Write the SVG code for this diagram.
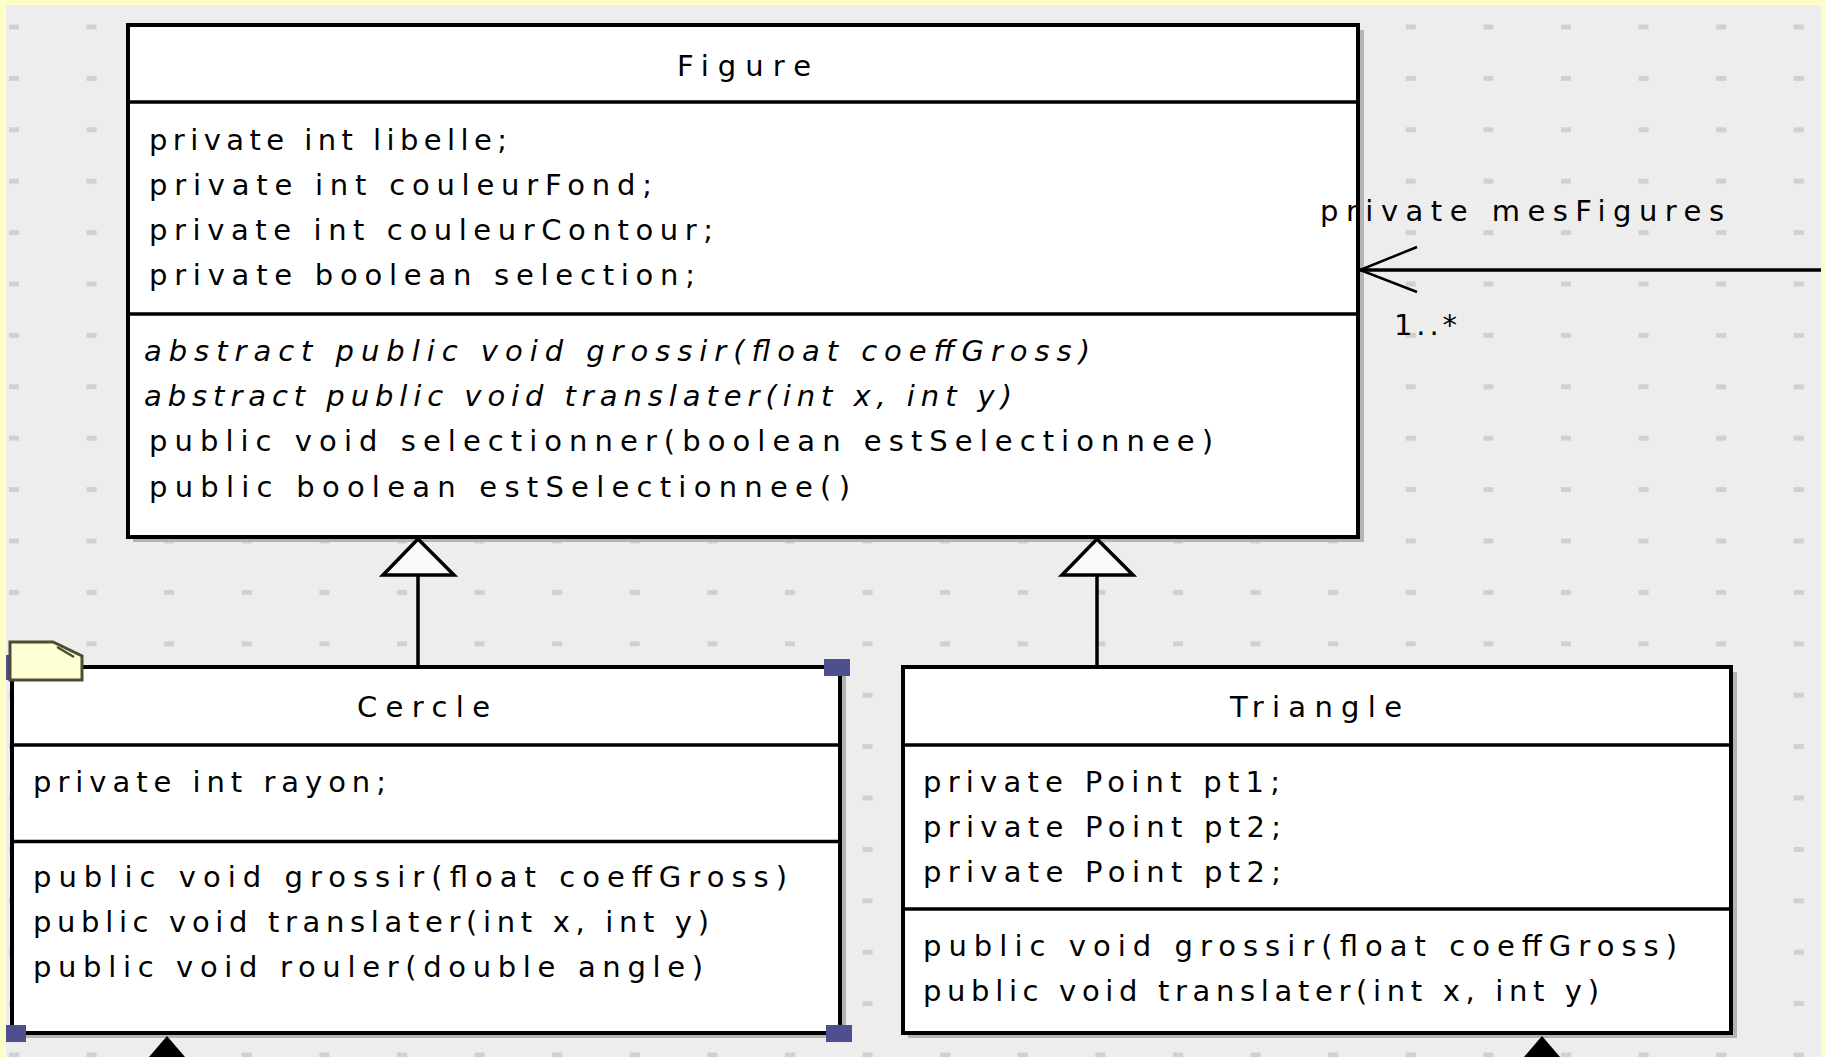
<svg xmlns="http://www.w3.org/2000/svg" width="1825" height="1057" viewBox="0 0 1825 1057">
<defs>
<pattern id="grid" x="9" y="24.5" width="77.6" height="51.4" patternUnits="userSpaceOnUse">
<rect x="0" y="0" width="10" height="5" fill="#d0d0d0"/>
</pattern>
<style>
.t{font-family:"DejaVu Sans",Verdana,sans-serif;font-size:29px;fill:#000}
.i{font-style:italic}
.box{fill:#fff;stroke:#000;stroke-width:4}
.shadow{fill:#b4b4b4}
.div{stroke:#000;stroke-width:3.5}
.edge{stroke:#000;stroke-width:3.5;fill:none}
.arm{stroke:#000;stroke-width:2.5;fill:none}
.gen{fill:#fafafa;stroke:#000;stroke-width:3.5;stroke-linejoin:miter}
.tip{fill:#000}
.handle{fill:#4f4f8f}
.border{fill:#fdfdc6}
</style>
</defs>
<rect width="1825" height="1057" fill="#ededed"/>
<rect width="1825" height="1057" fill="url(#grid)"/>

<g id="figure">
<rect class="shadow" x="133" y="30" width="1231" height="512"/>
<rect class="box" x="128" y="25" width="1230" height="512"/>
<line class="div" x1="128" y1="102" x2="1358" y2="102"/>
<line class="div" x1="128" y1="314" x2="1358" y2="314"/>
<text class="t" x="677" y="76" textLength="134" lengthAdjust="spacing">Figure</text>
<text class="t" x="149" y="150" textLength="358" lengthAdjust="spacing">private int libelle;</text>
<text class="t" x="149" y="195" textLength="503" lengthAdjust="spacing">private int couleurFond;</text>
<text class="t" x="149" y="240" textLength="564" lengthAdjust="spacing">private int couleurContour;</text>
<text class="t" x="149" y="285" textLength="546" lengthAdjust="spacing">private boolean selection;</text>
<text class="t i" x="144" y="361" textLength="946" lengthAdjust="spacing">abstract public void grossir(float coeffGross)</text>
<text class="t i" x="144" y="406" textLength="868" lengthAdjust="spacing">abstract public void translater(int x, int y)</text>
<text class="t" x="149" y="451" textLength="1064" lengthAdjust="spacing">public void selectionner(boolean estSelectionnee)</text>
<text class="t" x="149" y="497" textLength="701" lengthAdjust="spacing">public boolean estSelectionnee()</text>
</g>

<g id="cercle">
<rect class="shadow" x="17" y="672" width="829" height="366"/>
<rect class="box" x="12" y="667" width="828" height="366"/>
<line class="div" x1="12" y1="745" x2="840" y2="745"/>
<line class="div" x1="12" y1="841.5" x2="840" y2="841.5"/>
<text class="t" x="357" y="717" textLength="133" lengthAdjust="spacing">Cercle</text>
<text class="t" x="33" y="792" textLength="353" lengthAdjust="spacing">private int rayon;</text>
<text class="t" x="33" y="887" textLength="754" lengthAdjust="spacing">public void grossir(float coeffGross)</text>
<text class="t" x="33" y="932" textLength="676" lengthAdjust="spacing">public void translater(int x, int y)</text>
<text class="t" x="33" y="977" textLength="670" lengthAdjust="spacing">public void rouler(double angle)</text>
<rect class="handle" x="824" y="659" width="26" height="17"/>
<rect class="handle" x="826" y="1025" width="26" height="17"/>
<rect class="handle" x="2" y="1025" width="24" height="17"/>
<rect class="handle" x="2" y="655" width="22" height="25"/>
<polygon points="10,642 53,642 82,656 82,680 10,680" fill="#ffffd6" stroke="#4d4d33" stroke-width="3"/>
<polyline points="57,647 74,657" fill="none" stroke="#4d4d33" stroke-width="2.5"/>
</g>

<g id="triangle">
<rect class="shadow" x="908" y="672" width="829" height="366"/>
<rect class="box" x="903" y="667" width="828" height="366"/>
<line class="div" x1="903" y1="745" x2="1731" y2="745"/>
<line class="div" x1="903" y1="909" x2="1731" y2="909"/>
<text class="t" x="1230" y="717" textLength="172" lengthAdjust="spacing">Triangle</text>
<text class="t" x="923" y="792" textLength="357" lengthAdjust="spacing">private Point pt1;</text>
<text class="t" x="923" y="837" textLength="358" lengthAdjust="spacing">private Point pt2;</text>
<text class="t" x="923" y="882" textLength="358" lengthAdjust="spacing">private Point pt2;</text>
<text class="t" x="923" y="956" textLength="754" lengthAdjust="spacing">public void grossir(float coeffGross)</text>
<text class="t" x="923" y="1001" textLength="676" lengthAdjust="spacing">public void translater(int x, int y)</text>
</g>

<g id="connectors">
<line class="edge" x1="1358" y1="270" x2="1821" y2="270"/>
<polyline class="arm" points="1417,247 1360,270 1417,292"/>
<text class="t" x="1320" y="221" textLength="404" lengthAdjust="spacing">private mesFigures</text>
<text class="t" x="1394" y="335" textLength="63" lengthAdjust="spacing">1..*</text>
<line class="edge" x1="418" y1="575" x2="418" y2="667"/>
<polygon class="gen" points="418,539 383,575 454,575"/>
<line class="edge" x1="1097" y1="575" x2="1097" y2="667"/>
<polygon class="gen" points="1097,539 1062,575 1133,575"/>
<polygon class="tip" points="167,1036 149,1057 185,1057"/>
<polygon class="tip" points="1542,1036 1524,1057 1560,1057"/>
</g>

<rect class="border" x="0" y="0" width="1825" height="5"/>
<rect class="border" x="0" y="0" width="6" height="1057"/>
<rect class="border" x="1821" y="0" width="4" height="1057"/>
</svg>
